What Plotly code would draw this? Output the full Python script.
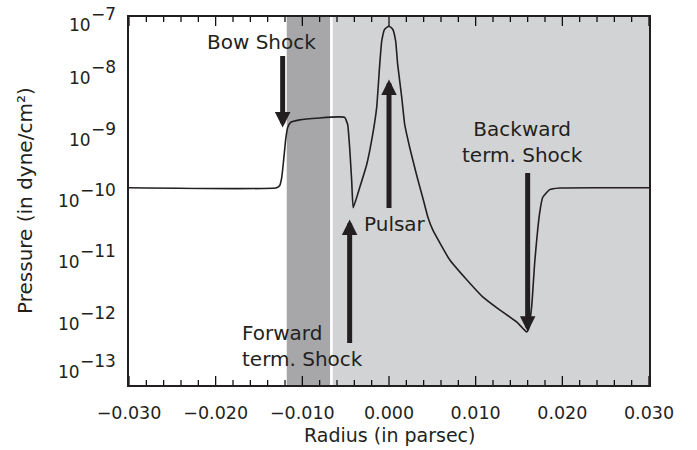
import math
import plotly.graph_objects as go

# Pressure profile across the pulsar wind nebula
radius_pc = [
    -0.0300, -0.01296, -0.01261, -0.01238, -0.01215, -0.01192, -0.01169, -0.01135,
    -0.01031, -0.00800, -0.00569, -0.00511, -0.00477, -0.00454, -0.00430, -0.00413,
    -0.00338, -0.00257, -0.00188, -0.00142, -0.00107, -0.00084, -0.00050, 0.0000,
    0.00043, 0.00077, 0.00100, 0.00147, 0.00181, 0.00239, 0.00320, 0.00389,
    0.00447, 0.00504, 0.00700, 0.00897, 0.01081, 0.01277, 0.01473, 0.01588,
    0.01606, 0.01646, 0.01681, 0.01739, 0.01773, 0.01854, 0.01969, 0.0300,
]
pressure = [
    1.64e-10, 1.64e-10, 1.79e-10, 2.41e-10, 4.74e-10, 1.01e-9, 1.58e-9, 1.91e-9,
    2.10e-9, 2.26e-9, 2.35e-9, 2.31e-9, 1.77e-9, 7.46e-10, 2.07e-10, 7.80e-11,
    1.66e-10, 3.94e-10, 1.22e-9, 3.36e-9, 1.69e-8, 4.03e-8, 6.32e-8, 7.08e-8,
    6.32e-8, 4.03e-8, 1.69e-8, 4.90e-9, 1.77e-9, 7.46e-10, 2.60e-10, 1.14e-10,
    5.56e-11, 3.41e-11, 1.10e-11, 5.20e-12, 2.74e-12, 1.68e-12, 1.07e-12, 7.35e-13,
    7.93e-13, 1.88e-12, 9.84e-12, 6.46e-11, 1.14e-10, 1.53e-10, 1.63e-10, 1.64e-10,
]

# Shaded zones (radius in parsec)
shocked_ism = (-0.0118, -0.0068)
wind_zone = (-0.0065, 0.030)

# Axis ticks
x_major = [-0.03, -0.02, -0.01, 0.0, 0.01, 0.02, 0.03]
x_minor_step = 0.002
decades = [-13, -12, -11, -10, -9, -8, -7]

# Labelled arrows: (text, text x, text log-p, anchor, arrow tip (x, log-p), arrow tail (x, log-p))
labels = [
    ("Bow Shock", -0.01469, -7.41, "center", (-0.01227, -8.80), (-0.01227, -7.61)),
    ("Forward<br>term. Shock", -0.01723, -12.37, "left", (-0.00454, -10.30), (-0.00454, -12.34)),
    ("Pulsar", -0.00316, -10.37, "left", (0.0, -8.02), (0.0, -10.14)),
    ("Backward<br>term. Shock", 0.01542, -9.04, "center", (0.0160, -12.13), (0.0160, -9.52)),
]

FONT = "DejaVu Sans"
INK = "#231f20"

W, H = 697, 450
MARGIN = dict(l=129, r=48, t=17, b=65)
plot_w = W - MARGIN["l"] - MARGIN["r"]
plot_h = H - MARGIN["t"] - MARGIN["b"]

fig = go.Figure()
fig.add_trace(go.Scatter(
    x=radius_pc, y=pressure, mode="lines",
    line=dict(color=INK, width=1.6, shape="spline", smoothing=0.4),
    hoverinfo="skip", showlegend=False,
))

fig.add_shape(type="rect", xref="x", yref="paper", x0=shocked_ism[0], x1=shocked_ism[1],
              y0=0, y1=1, fillcolor="#a7a7aa", line_width=0, layer="below")
fig.add_shape(type="rect", xref="x", yref="paper", x0=wind_zone[0], x1=wind_zone[1],
              y0=0, y1=1, fillcolor="#d2d3d5", line_width=0, layer="below")

# Inward tick marks on all four sides of the frame
tick_line = dict(color="#000000", width=1.2)
n_minor = int(round((x_major[-1] - x_major[0]) / x_minor_step))
for i in range(n_minor + 1):
    xv = x_major[0] + i * x_minor_step
    major = i % 5 == 0
    frac = (9 if major else 5) / plot_h
    fig.add_shape(type="line", xref="x", yref="paper", x0=xv, x1=xv, y0=0, y1=frac,
                  line=tick_line, layer="above")
    fig.add_shape(type="line", xref="x", yref="paper", x0=xv, x1=xv, y0=1, y1=1 - frac,
                  line=tick_line, layer="above")
for d in decades:
    steps = [1] if d == decades[-1] else range(1, 10)
    for m in steps:
        lv = d + math.log10(m)
        frac = (10 if m == 1 else 5) / plot_w
        fig.add_shape(type="line", xref="paper", yref="y", x0=0, x1=frac, y0=lv, y1=lv,
                      line=tick_line, layer="above")
        fig.add_shape(type="line", xref="paper", yref="y", x0=1, x1=1 - frac, y0=lv, y1=lv,
                      line=tick_line, layer="above")

annotations = []
for text, tx, ty, anchor, tip, tail in labels:
    annotations.append(dict(
        x=tx, y=ty, xref="x", yref="y", text=text, showarrow=False,
        xanchor=anchor, yanchor="middle", align=anchor,
        font=dict(family=FONT, size=20, color=INK),
    ))
    annotations.append(dict(
        x=tip[0], y=tip[1], ax=tail[0], ay=tail[1], xref="x", yref="y",
        axref="x", ayref="y", text="", showarrow=True,
        arrowhead=2, arrowsize=0.62, arrowwidth=5, arrowcolor=INK,
    ))

# Decade labels 10^n drawn as base + raised exponent of equal size
EXP_SIZE = 17
for d in decades:
    shift = 0
    if d == -7:
        shift = -8
    elif d == -13:
        shift = 13
    exp_text = "\u2212" + str(-d)
    exp_w = EXP_SIZE * (0.838 + 0.636 * len(str(-d)))
    annotations.append(dict(
        x=0, y=d, xref="paper", yref="y", text=exp_text, showarrow=False,
        xanchor="right", yanchor="middle", xshift=-11, yshift=shift + 11,
        font=dict(family=FONT, size=EXP_SIZE, color=INK),
    ))
    annotations.append(dict(
        x=0, y=d, xref="paper", yref="y", text="10", showarrow=False,
        xanchor="right", yanchor="middle", xshift=-11 - exp_w, yshift=shift,
        font=dict(family=FONT, size=EXP_SIZE, color=INK),
    ))

# Axis titles
annotations.append(dict(
    x=0.5, y=0, xref="paper", yref="paper", text="Radius (in parsec)", showarrow=False,
    xanchor="center", yanchor="middle", yshift=-50,
    font=dict(family=FONT, size=19, color=INK),
))
annotations.append(dict(
    x=0, y=0.5, xref="paper", yref="paper", text="Pressure (in dyne/cm\u00b2)", showarrow=False,
    xanchor="center", yanchor="middle", xshift=-104, textangle=-90,
    font=dict(family=FONT, size=20, color=INK),
))

fig.update_layout(
    width=W, height=H,
    margin=MARGIN,
    paper_bgcolor="white", plot_bgcolor="white",
    showlegend=False,
    annotations=annotations,
    xaxis=dict(
        range=[-0.03, 0.03], tickvals=x_major, tickformat=".3f", ticks="",
        showline=True, linecolor=INK, linewidth=1.5, mirror=True,
        showgrid=False, zeroline=False, ticklabelstandoff=11,
        tickfont=dict(family=FONT, size=17.5, color=INK),
    ),
    yaxis=dict(
        type="log", range=[-13, -7], ticks="", showticklabels=False,
        showline=True, linecolor=INK, linewidth=1.5, mirror=True,
        showgrid=False, zeroline=False,
    ),
)

fig.write_html("out.html")
